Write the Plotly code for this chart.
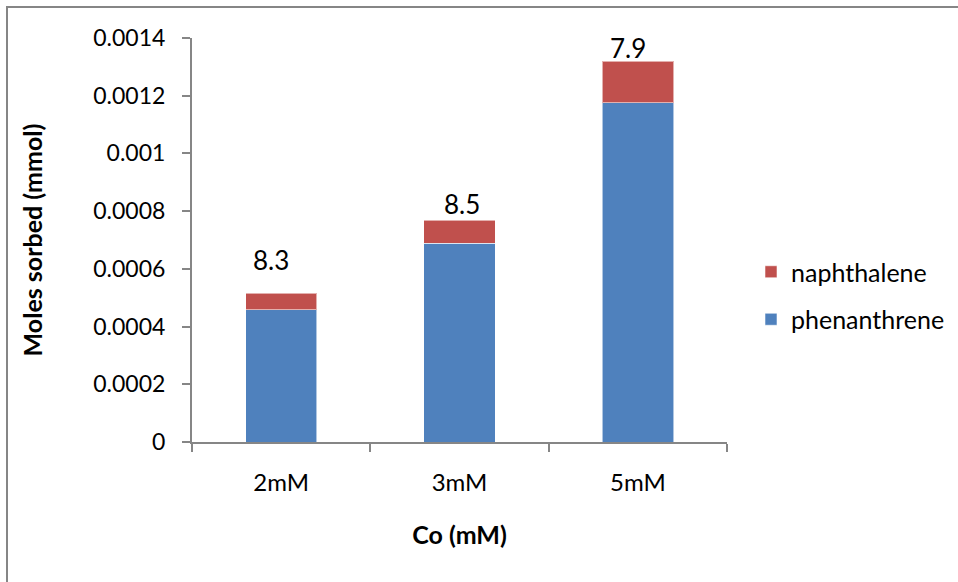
import plotly.graph_objects as go

# Sorbed moles of each compound at three initial concentrations
concentrations = ["2mM", "3mM", "5mM"]
phenanthrene = [0.000459, 0.000688, 0.001175]
naphthalene = [0.000056, 0.000081, 0.000145]
ratio_labels = ["8.3", "8.5", "7.9"]

y_ticks = [0, 0.0002, 0.0004, 0.0006, 0.0008, 0.001, 0.0012, 0.0014]
y_tick_text = ["0", "0.0002", "0.0004", "0.0006", "0.0008", "0.001", "0.0012", "0.0014"]

BLUE = "#4F81BD"
RED = "#C0504D"
AXIS = "#868686"
FONT = "Lato, 'Open Sans', sans-serif"

W, H = 958, 582
L, R, T, B = 192, 231, 38, 140

fig = go.Figure()
fig.add_trace(go.Bar(
    x=concentrations, y=phenanthrene, name="phenanthrene",
    marker=dict(color=BLUE, line=dict(color="rgba(255,255,255,0.55)", width=1)),
    legendgroup="phen", legendrank=2,
))
fig.add_trace(go.Bar(
    x=concentrations, y=naphthalene, name="naphthalene",
    marker=dict(color=RED, line=dict(color="rgba(255,255,255,0.55)", width=1)),
    legendgroup="naph", legendrank=1,
))

# ratio labels above each stacked bar
label_dx = [-10, 2, -10]
label_dy = [33, 16, 13]
for i, cat in enumerate(concentrations):
    fig.add_annotation(
        x=cat, y=phenanthrene[i] + naphthalene[i], text=ratio_labels[i],
        showarrow=False, xanchor="center", yanchor="middle",
        xshift=label_dx[i], yshift=label_dy[i],
        font=dict(family=FONT, size=26, color="black"),
    )

# outer chart frame (left and top edges visible)
pw, ph = W - L - R, H - T - B
def px_x(v):
    return (v - L) / pw
def px_y(v):
    return 1 - (v - T) / ph

fig.add_shape(
    type="rect", xref="paper", yref="paper",
    x0=px_x(7), x1=px_x(W + 10), y0=px_y(7), y1=px_y(H + 10),
    line=dict(color=AXIS, width=2), fillcolor="rgba(0,0,0,0)", layer="below",
)

fig.update_layout(
    width=W, height=H,
    margin=dict(l=L, r=R, t=T, b=B, pad=0, autoexpand=False),
    barmode="stack", bargap=0.6,
    plot_bgcolor="white", paper_bgcolor="white",
    font=dict(family=FONT, size=23, color="black"),
    showlegend=True,
    legend=dict(
        xref="container", yref="container",
        x=751 / W, y=1 - 249 / H, xanchor="left", yanchor="top",
        traceorder="grouped", tracegroupgap=12,
        font=dict(family=FONT, size=25, color="black"),
        bgcolor="rgba(0,0,0,0)", itemwidth=30,
    ),
    xaxis=dict(
        showline=True, linecolor=AXIS, linewidth=2,
        ticks="outside", ticklen=8, tickcolor=AXIS, tickwidth=2,
        tickson="boundaries", showgrid=False,
        tickfont=dict(family=FONT, size=24), ticklabelstandoff=18,
        title=dict(text="<b>Co (mM)</b>", font=dict(family=FONT, size=25), standoff=32),
    ),
    yaxis=dict(
        range=[0, 0.0014], tickvals=y_ticks, ticktext=y_tick_text,
        showline=True, linecolor=AXIS, linewidth=2,
        ticks="outside", ticklen=8, tickcolor=AXIS, tickwidth=2,
        showgrid=False, zeroline=False,
        tickfont=dict(family=FONT, size=23), ticklabelstandoff=12,
        title=dict(text="<b>Moles sorbed (mmol)</b>", font=dict(family=FONT, size=25), standoff=44),
    ),
)

fig.write_html("out.html")
